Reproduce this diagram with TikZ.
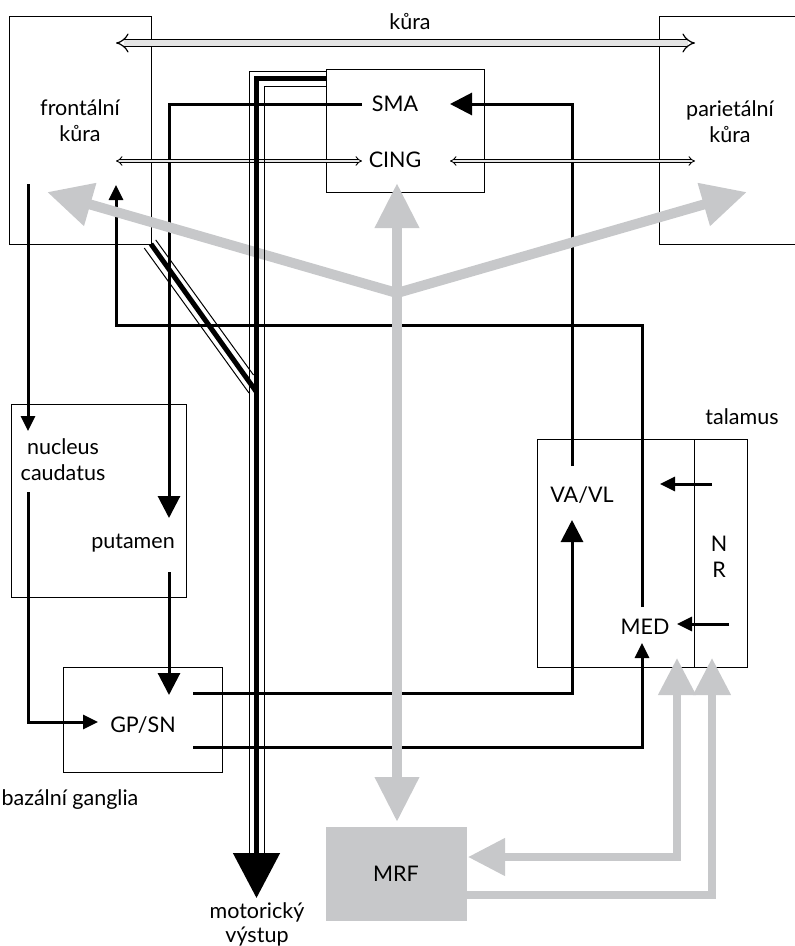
\documentclass[tikz,border=0pt]{standalone}
\usepackage{fontspec}
\setmainfont{Lato}
\usetikzlibrary{arrows.meta}
\definecolor{grayc}{RGB}{199,200,202}
\definecolor{grayf}{RGB}{228,228,228}
\tikzset{
  box/.style={draw, line width=1pt, minimum width=#1, anchor=north west, inner sep=0pt},
  lbl/.style={font=\fontsize{21.5}{26}\selectfont, align=center, inner sep=0pt},
  conn/.style={line width=3pt},
  bigtip/.style={-{Triangle[length=22pt,width=22pt]}},
  midtip/.style={-{Triangle[length=15pt,width=14pt]}},
  graybig/.style={draw=grayc, line width=10pt},
  graysmall/.style={draw=grayc, line width=7.5pt},
  gtip/.tip={Triangle[length=45pt,width=42pt]},
  gstip/.tip={Triangle[length=37pt,width=36pt]},
  dblbig/.style={line width=1.2pt, double=grayf, double distance=5.5pt, {Implies[scale=1.3]}-{Implies[scale=1.3]}},
  dblsmall/.style={line width=0.9pt, double=grayf, double distance=2.4pt, {Implies[scale=1.4]}-{Implies[scale=1.4]}},
  thickline/.style={line width=5pt},
  thinline/.style={line width=1pt},
}
\begin{document}
\begin{tikzpicture}[x=1pt,y=-1pt]
\useasboundingbox (0,0) rectangle (795,946);

% boxes
\node[box=142pt, minimum height=228pt] (front) at (9,16) {};
\node[box=160pt, minimum height=228pt] (pariet) at (659,16) {};
\node[box=158pt, minimum height=123pt] (smabox) at (326,69) {};
\node[box=175pt, minimum height=193pt] (ncbox) at (11,404) {};
\node[box=159pt, minimum height=105pt] (gpbox) at (63,667) {};
\node[box=210pt, minimum height=228pt] (thal) at (537,439) {};
\coordinate (divT) at (694,439);
\coordinate (divB) at (694,667);
\draw[line width=1pt] (divT) -- (divB);
\node[fill=grayc, minimum width=141pt, minimum height=94pt, anchor=north west, inner sep=0pt] (mrf) at (326,827) {};

% coordinates for connectors
\coordinate (smaL) at (362,104);
\coordinate (putT) at (169,518);
\coordinate (vavlT) at (572,466);
\coordinate (smaR) at (450,104);
\coordinate (medT) at (642,607);
\coordinate (medC) at (642,325);
\coordinate (frC) at (116,325);
\coordinate (frIn) at (116,185);
\coordinate (frOut) at (28,184);
\coordinate (ncIn) at (28,431);
\coordinate (ncOut) at (28,492);
\coordinate (gpInL) at (98,722);
\coordinate (putOut) at (169,572);
\coordinate (gpInT) at (169,695);
\coordinate (gpOut1) at (193,693);
\coordinate (vavlB) at (572,520);
\coordinate (gpOut2) at (193,747);
\coordinate (medB) at (642,643);
\coordinate (nr1) at (712,484);
\coordinate (nr1t) at (660,484);
\coordinate (nr2) at (729,624);
\coordinate (nr2t) at (677,624);

% black connectors
\draw[conn, bigtip] (smaL) -| (putT);
\draw[conn, bigtip] (vavlT) |- (smaR);
\draw[conn, midtip] (medT) -- (medC) -- (frC) -- (frIn);
\draw[conn, midtip] (frOut) -- (ncIn);
\draw[conn, midtip] (ncOut) |- (gpInL);
\draw[conn, bigtip] (putOut) -- (gpInT);
\draw[conn, bigtip] (gpOut1) -| (vavlB);
\draw[conn, midtip] (gpOut2) -| (medB);
\draw[conn, midtip] (nr1) -- (nr1t);
\draw[conn, midtip] (nr2) -- (nr2t);

% double (hollow) arrows
\coordinate (k1) at (116,43);
\coordinate (k2) at (695,43);
\draw[dblbig] (k1) -- (k2);
\coordinate (c1) at (116,161);
\coordinate (c2) at (362,161);
\coordinate (c3) at (450,161);
\coordinate (c4) at (695,161);
\draw[dblsmall] (c1) -- (c2);
\draw[dblsmall] (c3) -- (c4);

% gray arrows
\coordinate (gtop) at (397,183);
\coordinate (gbot) at (397,822);
\coordinate (gj) at (397,293);
\coordinate (gl) at (47,192);
\coordinate (gr) at (747,192);
\draw[graybig, {gtip}-{gtip}] (gtop) -- (gbot);
\draw[graybig, -{gtip}] (gj) -- (gl);
\draw[graybig, -{gtip}] (gj) -- (gr);
\coordinate (ta) at (677,658);
\coordinate (tac) at (677,857);
\coordinate (mrfIn) at (468,857);
\draw[graysmall, {gstip}-{gstip}] (ta) -- (tac) -- (mrfIn);
\coordinate (mrfOut) at (467,895);
\coordinate (tb) at (712,658);
\draw[graysmall, -{gstip}] (mrfOut) -| (tb);

% triple motor pathway
\coordinate (t0) at (327,78);
\coordinate (t1) at (256.5,78);
\coordinate (tip) at (256.5,898);
\draw[thickline, -{Triangle[length=45pt,width=46pt]}] (t0) -- (t1) -- (tip);
\coordinate (o0) at (326,71);
\coordinate (o1) at (249,71);
\coordinate (o2) at (249,855);
\draw[thinline] (o0) -- (o1) -- (o2);
\coordinate (i0) at (326,86);
\coordinate (i1) at (264,86);
\coordinate (i2) at (264,855);
\draw[thinline] (i0) -- (i1) -- (i2);
\coordinate (d0) at (151,244);
\coordinate (d1) at (256.5,392);
\draw[thickline] (d0) -- (d1);
\coordinate (dr0) at (155.7,239.9);
\coordinate (dr1) at (253.5,375);
\draw[thinline] (dr0) -- (dr1);
\coordinate (dl0) at (144.3,248.1);
\coordinate (dl1) at (249,393);
\draw[thinline] (dl0) -- (dl1);

% labels
\node[lbl] (tkura) at (410,22) {kůra};
\node[lbl] (tfront) at (80,121) {frontální\\kůra};
\node[lbl] (tpar) at (730,122) {parietální\\kůra};
\node[lbl] (tsma) at (395,104) {SMA};
\node[lbl] (tcing) at (395,160) {CING};
\node[lbl] (tnc) at (63,460) {nucleus\\caudatus};
\node[lbl] (tput) at (133,543) {putamen};
\node[lbl] (tgp) at (143,725) {GP/SN};
\node[lbl] (tbg) at (70,800) {bazální ganglia};
\node[lbl] (ttal) at (742,417) {talamus};
\node[lbl] (tvavl) at (582,495) {VA/VL};
\node[lbl] (tnr) at (719,557) {N\\R};
\node[lbl] (tmed) at (645,627) {MED};
\node[lbl] (tmrf) at (396,874) {MRF};
\node[lbl, font=\fontsize{21.5}{24}\selectfont] (tmot) at (257,924) {motorický\\výstup};
\end{tikzpicture}
\end{document}
